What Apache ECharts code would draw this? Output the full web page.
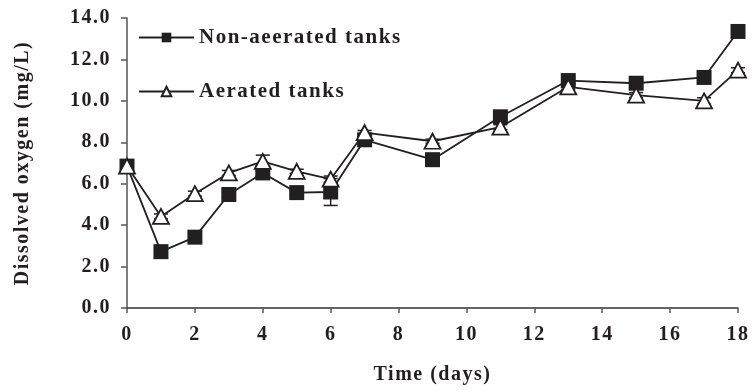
<!DOCTYPE html>
<html>
<head>
<meta charset="utf-8">
<script src="https://cdn.jsdelivr.net/npm/echarts@6/dist/echarts.min.js"></script>
<style>
  html, body { margin: 0; padding: 0; background: #fff; }
  #chart { width: 753px; height: 390px; }
</style>
</head>
<body>
<div id="chart"></div>
<script>
// Sampling days
const days = [0, 1, 2, 3, 4, 5, 6, 7, 9, 11, 13, 15, 17, 18];
// Dissolved oxygen, mg/L
const nonAerated = [6.85, 2.72, 3.42, 5.48, 6.52, 5.57, 5.6, 8.12, 7.16, 9.23, 10.98, 10.85, 11.13, 13.35];
const aerated    = [6.85, 4.42, 5.52, 6.52, 7.08, 6.6, 6.22, 8.47, 8.05, 8.73, 10.68, 10.28, 10.0, 11.48];
// Standard deviations
const nonAeratedErr = [0.12, 0.1, 0.12, 0.12, 0.15, 0.1, 0.65, 0.12, 0.1, 0.12, 0.12, 0.15, 0.15, 0.12];
const aeratedErr    = [0.12, 0.12, 0.12, 0.12, 0.3, 0.1, 0.15, 0.1, 0.1, 0.12, 0.12, 0.12, 0.15, 0.12];
// Axis ticks
const xTicks = [0, 2, 4, 6, 8, 10, 12, 14, 16, 18];
const yTicks = [0, 2, 4, 6, 8, 10, 12, 14];

const seriesNames = ['Non-aeerated tanks', 'Aerated tanks'];
const FONT = '"Liberation Serif", "Times New Roman", serif';
const INK = '#231f20';

// Slightly tracked-out lettering for all chart text
const baseFillText = CanvasRenderingContext2D.prototype.fillText;
CanvasRenderingContext2D.prototype.fillText = function () {
  if ('letterSpacing' in this) this.letterSpacing = '1.5px';
  return baseFillText.apply(this, arguments);
};

function pairs(vals) { return days.map((d, i) => [d, vals[i]]); }
function errRows(vals, errs) { return days.map((d, i) => [d, vals[i] - errs[i], vals[i] + errs[i]]); }

function errorBar(params, api) {
  const x = api.value(0);
  const lo = api.coord([x, api.value(1)]);
  const hi = api.coord([x, api.value(2)]);
  const half = 7;
  const style = { stroke: INK, lineWidth: 1.5 };
  return {
    type: 'group',
    children: [
      { type: 'line', shape: { x1: lo[0], y1: lo[1], x2: hi[0], y2: hi[1] }, style },
      { type: 'line', shape: { x1: lo[0] - half, y1: lo[1], x2: lo[0] + half, y2: lo[1] }, style },
      { type: 'line', shape: { x1: hi[0] - half, y1: hi[1], x2: hi[0] + half, y2: hi[1] }, style }
    ]
  };
}

const chart = echarts.init(document.getElementById('chart'), null, { renderer: 'canvas' });

chart.setOption({
  animation: false,
  backgroundColor: '#fff',
  grid: { left: 127, right: 15, top: 18, bottom: 82, containLabel: false },
  legend: {
    data: seriesNames,
    orient: 'vertical',
    left: 133,
    top: 22,
    itemWidth: 55,
    itemHeight: 12,
    itemGap: 33,
    textStyle: { fontFamily: FONT, fontWeight: 'bold', fontSize: 21, color: INK }
  },
  xAxis: {
    type: 'value',
    min: 0,
    max: 18,
    interval: 2,
    name: 'Time (days)',
    nameLocation: 'middle',
    nameGap: 57,
    nameTextStyle: { fontFamily: FONT, fontWeight: 'bold', fontSize: 20, color: INK },
    axisLine: { lineStyle: { color: '#333', width: 1.5 } },
    axisTick: { show: true, length: 5, lineStyle: { color: '#555', width: 1.5 }, customValues: xTicks },
    axisLabel: { margin: 17, fontFamily: FONT, fontWeight: 'bold', fontSize: 20, color: INK, customValues: xTicks },
    splitLine: { show: false }
  },
  yAxis: {
    type: 'value',
    min: 0,
    max: 14,
    interval: 2,
    name: 'Dissolved oxygen (mg/L)',
    nameLocation: 'middle',
    nameGap: 94,
    nameTextStyle: { fontFamily: FONT, fontWeight: 'bold', fontSize: 20, color: INK },
    axisLine: { show: true, lineStyle: { color: '#555', width: 1.5 } },
    axisTick: { show: true, length: 6, lineStyle: { color: '#555', width: 1.5 }, customValues: yTicks },
    axisLabel: {
      margin: 16, fontFamily: FONT, fontWeight: 'bold', fontSize: 20, color: INK,
      customValues: yTicks,
      formatter: v => v.toFixed(1)
    },
    splitLine: { show: false }
  },
  series: [
    {
      type: 'custom',
      renderItem: errorBar,
      data: errRows(nonAerated, nonAeratedErr),
      z: 1,
      silent: true
    },
    {
      type: 'custom',
      renderItem: errorBar,
      data: errRows(aerated, aeratedErr),
      z: 1,
      silent: true
    },
    {
      name: seriesNames[0],
      type: 'line',
      data: pairs(nonAerated),
      symbol: 'rect',
      symbolSize: 15,
      showAllSymbol: true,
      lineStyle: { color: INK, width: 1.8 },
      itemStyle: { color: INK, borderColor: INK, borderWidth: 0 },
      z: 3
    },
    {
      name: seriesNames[1],
      type: 'line',
      data: pairs(aerated),
      symbol: 'triangle',
      symbolSize: [16, 15],
      showAllSymbol: true,
      lineStyle: { color: INK, width: 1.8 },
      itemStyle: { color: '#fff', borderColor: INK, borderWidth: 1.8 },
      z: 4
    }
  ]
});
</script>
</body>
</html>
